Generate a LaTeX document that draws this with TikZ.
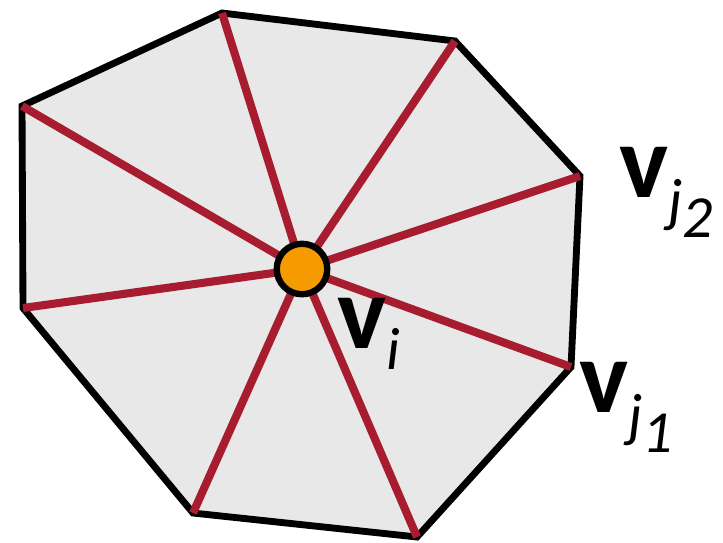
\documentclass[tikz,border=0pt]{standalone}
\usepackage{fontspec}
\setmainfont{Carlito}
\usetikzlibrary{positioning}
\definecolor{spk}{HTML}{A81C2F}
\definecolor{hub}{HTML}{F59B00}
\definecolor{cell}{HTML}{E8E8E8}
\tikzset{
  rim/.style={draw=black, fill=cell, line width=3.9pt, line join=miter},
  spoke/.style={spk, line width=4.6pt},
  hubnode/.style={circle, draw=black, fill=hub, line width=3.6pt, minimum size=1.01cm, inner sep=0pt},
  vlab/.style={anchor=base west, inner sep=0pt},
}
\newcommand{\bigv}{{\fontsize{59}{59}\selectfont\bfseries v}}
\newcommand{\subj}[1]{\raisebox{-13.5pt}{\fontsize{34}{34}\selectfont\itshape j\raisebox{-9.5pt}{#1}}}

\begin{document}
\begin{tikzpicture}[x=0.02cm,y=-0.02cm]
\useasboundingbox (0,0) rectangle (723,542);

% ===================== one-ring around v_i ============================
\coordinate (p1) at (222,13);
\coordinate (p2) at (455,41);
\coordinate (p3) at (580,176);
\coordinate (p4) at (571,367);
\coordinate (p5) at (417,537);
\coordinate (p6) at (193,513);
\coordinate (p7) at (23,308);
\coordinate (p8) at (22,106);
\coordinate (c) at (302,269);

\draw[rim] (p1) -- (p2) -- (p3) -- (p4) -- (p5) -- (p6) -- (p7) -- (p8) -- cycle;
\foreach \k in {1,...,8}
  \draw[spoke] (c) -- (p\k);
\node[hubnode] (vi) at (c) {};

% ===================== labels =========================================
\node[vlab] (li) at (337,348) {\bigv\raisebox{-12.5pt}{\fontsize{34}{34}\selectfont\itshape i}};
\node[vlab] (lj2) at (619,197) {\bigv\subj{2}};
\node[vlab] (lj1) at (579,412) {\bigv\subj{1}};

\end{tikzpicture}
\end{document}
